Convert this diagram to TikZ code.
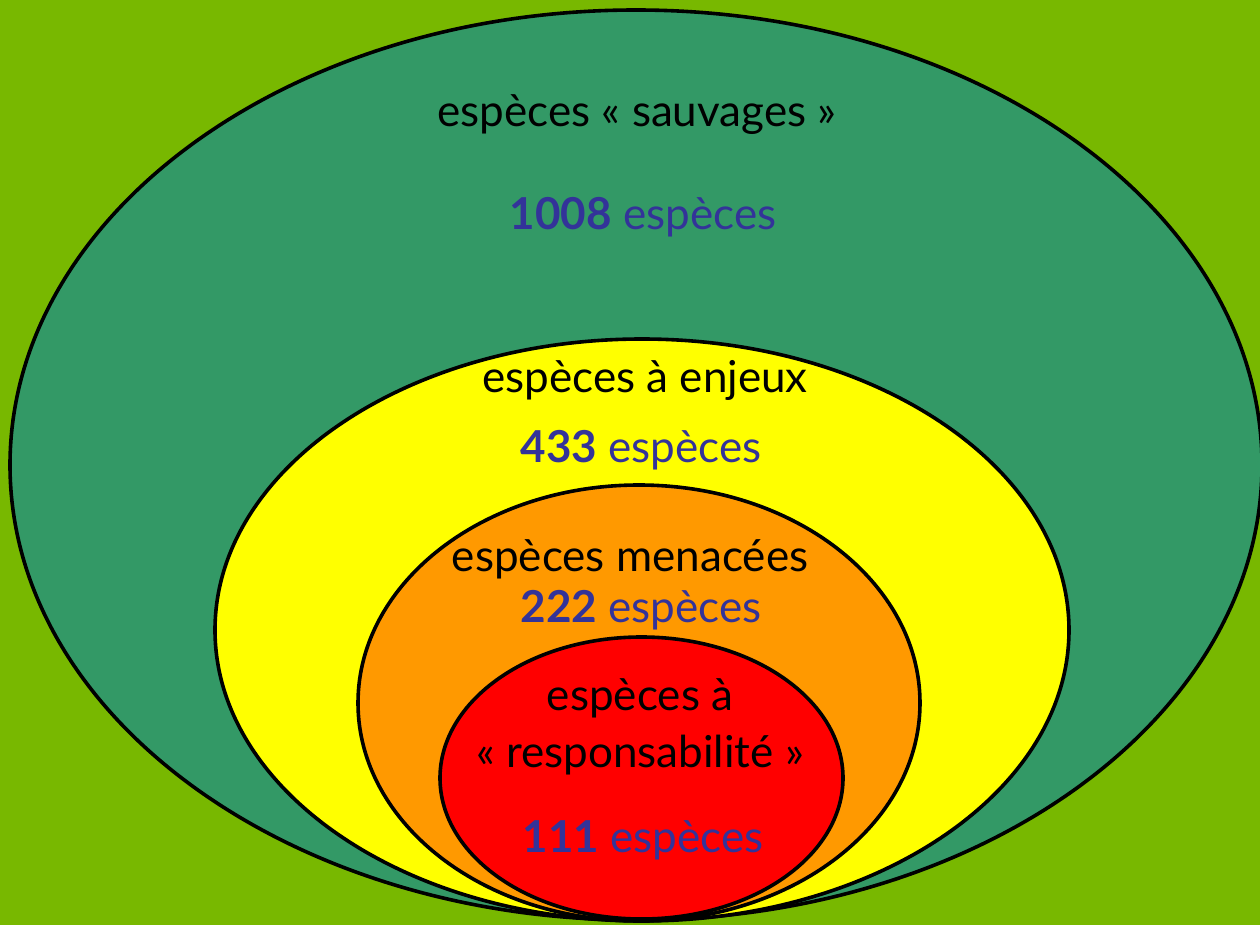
\documentclass[tikz,border=0pt]{standalone}
\usepackage{fontspec}
\setmainfont{Lato}
\usetikzlibrary{shapes.geometric}
\definecolor{bggreen}{HTML}{78B800}
\definecolor{wildgreen}{HTML}{339966}
\definecolor{numblue}{HTML}{333399}
\definecolor{yell}{HTML}{FFFF00}
\definecolor{orng}{HTML}{FF9900}
\definecolor{rd}{HTML}{FF0000}
\tikzset{
  ring/.style={ellipse, draw=black, line width=1.8pt, inner sep=0pt},
  lbl/.style={anchor=base, font=\fontsize{22}{26}\selectfont, text=black, inner sep=0pt},
  cnt/.style={anchor=base, font=\fontsize{22}{26}\selectfont, text=numblue, inner sep=0pt}
}
\begin{document}
\begin{tikzpicture}[x=0.5pt,y=-0.5pt]
\useasboundingbox (0,0) rectangle (1260,925);
\fill[bggreen] (0,0) rectangle (1260,925);
\clip (0,0) rectangle (1260,925);
\node[ring, fill=wildgreen, minimum width=626pt, minimum height=455pt] (wild) at (636,465) {};
\node[ring, fill=yell, minimum width=427pt, minimum height=291pt] (stake) at (642,630) {};
\node[ring, fill=orng, minimum width=281pt, minimum height=218pt] (threat) at (639,703) {};
\node[ring, fill=rd, minimum width=201.5pt, minimum height=141pt] (resp) at (641.5,778) {};
\node[lbl] (t1) at (637,127) {espèces « sauvages »};
\node[cnt] (n1) at (643,230) {\textbf{1008} espèces};
\node[lbl] (t2) at (645,393) {espèces à enjeux};
\node[cnt] (n2) at (641,463) {\textbf{433} espèces};
\node[lbl] (t3) at (630,572) {espèces menacées};
\node[cnt] (n3) at (641,622) {\textbf{222} espèces};
\node[lbl] (t4a) at (640,710) {espèces à};
\node[lbl] (t4b) at (640,767) {« responsabilité »};
\node[cnt] (n4) at (643,852) {\textbf{111} espèces};
\end{tikzpicture}
\end{document}
